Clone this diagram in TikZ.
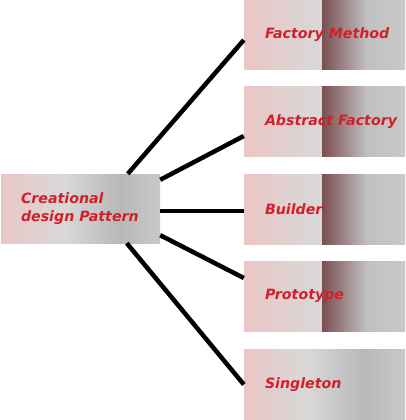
\documentclass[tikz,border=0pt]{standalone}
\usepackage{fontspec}
\newfontfamily\patfont{DejaVu Sans}[BoldItalicFont={DejaVu Sans Bold Oblique}]
\usetikzlibrary{positioning}

\definecolor{cpink}{HTML}{EBC6C6}
\definecolor{clight}{HTML}{D8D8D8}
\definecolor{cdark}{HTML}{7B4E51}
\definecolor{cmid}{HTML}{C0C0C0}
\definecolor{cgray}{HTML}{B8B8B8}
\definecolor{cend}{HTML}{C9C9C9}
\definecolor{tred}{HTML}{D2202A}

% Box fills
\pgfdeclarehorizontalshading{patshade}{100bp}{color(0bp)=(cpink); color(25bp)=(cpink);
  color(49bp)=(clight); color(49.2bp)=(cdark); color(63bp)=(cmid); color(75bp)=(cend); color(100bp)=(cend)}
\pgfdeclarehorizontalshading{plainshade}{100bp}{color(0bp)=(cpink); color(25bp)=(cpink);
  color(45bp)=(clight); color(62.5bp)=(cgray); color(75bp)=(cend); color(100bp)=(cend)}

\begin{document}
\begin{tikzpicture}[x=1pt, y=-1pt]
  \useasboundingbox (0,0) rectangle (405,420);
  % Boxes
  \begin{scope}[patbox/.style={shape=rectangle, inner sep=0pt, minimum width=161pt, minimum height=70pt, shading=patshade},
                pattext/.style={inner sep=0pt, anchor=west, text=tred, font=\patfont\bfseries\itshape\fontsize{14.2}{18}\selectfont, align=left}]
    \node[patbox, minimum width=159pt, minimum height=69pt, shading=plainshade] (cdp) at (80.5,208.5) {};
    \node[pattext, right=20pt of cdp.west] (cdpt) {Creational\\design Pattern};

    \node[patbox] (fm) at (324.5,34.5) {};
    \node[pattext, right=21pt of fm.west] (fmt) {Factory Method};

    \node[patbox] (af) at (324.5,121.5) {};
    \node[pattext, right=21pt of af.west] (aft) {Abstract Factory};

    \node[patbox] (bu) at (324.5,209) {};
    \node[pattext, right=21pt of bu.west] (but) {Builder};

    \node[patbox] (pr) at (324.5,296) {};
    \node[pattext, right=21pt of pr.west] (prt) {Prototype};

    \node[patbox, shading=plainshade] (si) at (324.5,384.5) {};
    \node[pattext, right=21pt of si.west] (sit) {Singleton};

    % Links
    \draw[line width=4.5pt] ([xshift=127pt]cdp.north west) edge ([yshift=-5.5pt]fm.west);
    \draw[line width=4.5pt] ([yshift=-6pt]cdp.north east) edge ([yshift=-14.5pt]af.west);
    \draw[line width=4.5pt] ([yshift=-2.5pt]cdp.east) edge ([yshift=-2pt]bu.west);
    \draw[line width=4.5pt] ([yshift=8pt]cdp.south east) edge ([yshift=18pt]pr.west);
    \draw[line width=4.5pt] ([xshift=126pt]cdp.south west) edge (si.west);
  \end{scope}
\end{tikzpicture}
\end{document}
